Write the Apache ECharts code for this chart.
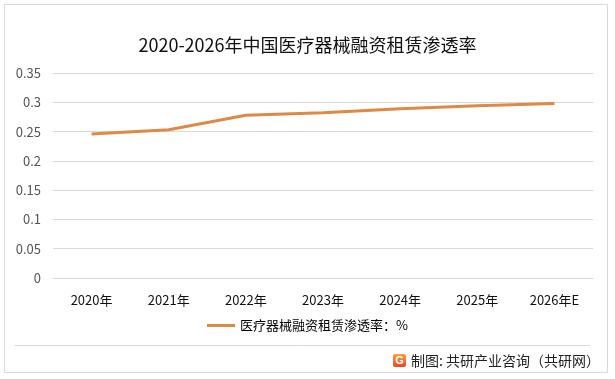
<!DOCTYPE html>
<html><head><meta charset="utf-8">
<script src="https://cdn.jsdelivr.net/npm/echarts@6/dist/echarts.min.js"></script>
<style>html,body{margin:0;padding:0;background:#fff}#c{width:615px;height:379px}</style>
</head><body><div id="c"></div>
<script>
const titleText = '2020-2026年中国医疗器械融资租赁渗透率';
const categories = ['2020年','2021年','2022年','2023年','2024年','2025年','2026年E'];
const seriesName = '医疗器械融资租赁渗透率：%';
const values = [0.246, 0.253, 0.278, 0.282, 0.289, 0.294, 0.298];
const yTicks = {min: 0, max: 0.35, interval: 0.05};
const footerText = '制图: 共研产业咨询（共研网）';

const chart = echarts.init(document.getElementById('c'), null, {renderer: 'canvas'});
const font = '"Microsoft YaHei","Noto Sans CJK SC",sans-serif';
chart.setOption({
  animation: false,
  textStyle: {fontFamily: font},
  title: {text: titleText, left: 'center', top: 31,
    textStyle: {fontSize: 18, fontWeight: 'normal', color: '#111', fontFamily: font}},
  grid: {left: 53, right: 22, top: 73, bottom: 101, containLabel: false},
  legend: {bottom: 42, left: 'center', itemWidth: 28, itemHeight: 3, itemGap: 4,
    icon: 'rect', textStyle: {fontSize: 13, color: '#000', fontFamily: font}},
  xAxis: {type: 'category', data: categories, boundaryGap: true,
    axisLine: {show: false}, axisTick: {show: false},
    axisLabel: {fontSize: 13, color: '#111', margin: 16}},
  yAxis: {type: 'value', min: yTicks.min, max: yTicks.max, interval: yTicks.interval,
    axisLine: {show: false}, axisTick: {show: false},
    axisLabel: {fontSize: 13, color: '#555', margin: 12, formatter: v => String(+v.toFixed(2))},
    splitLine: {lineStyle: {color: '#d9d9d9', width: 1}}},
  series: [{name: seriesName, type: 'line', data: values, symbol: 'none',
    lineStyle: {color: '#DD8A47', width: 3}, itemStyle: {color: '#DD8A47'}}],
  graphic: [
    {type: 'rect', shape: {x: 4.5, y: 4.5, width: 603, height: 368}, style: {fill: null, stroke: '#d9d9d9', lineWidth: 1}, silent: true},
    {type: 'line', shape: {x1: 15, y1: 345.5, x2: 590, y2: 345.5}, style: {stroke: '#d9d9d9', lineWidth: 1}},
    {type: 'rect', shape: {x: 393, y: 354, width: 13, height: 13, r: 2},
      style: {fill: new echarts.graphic.LinearGradient(0,0,0,1,[{offset:0,color:'#F9A23A'},{offset:1,color:'#E8452C'}])}},
    {type: 'text', x: 399.5, y: 360.5, style: {text: 'G', fill: '#fff', font: 'bold 11px sans-serif', textAlign: 'center', textVerticalAlign: 'middle'}},
    {type: 'text', x: 411, y: 361, style: {text: footerText, fill: '#222', font: '14px ' + font, textVerticalAlign: 'middle'}}
  ]
});
</script></body></html>
